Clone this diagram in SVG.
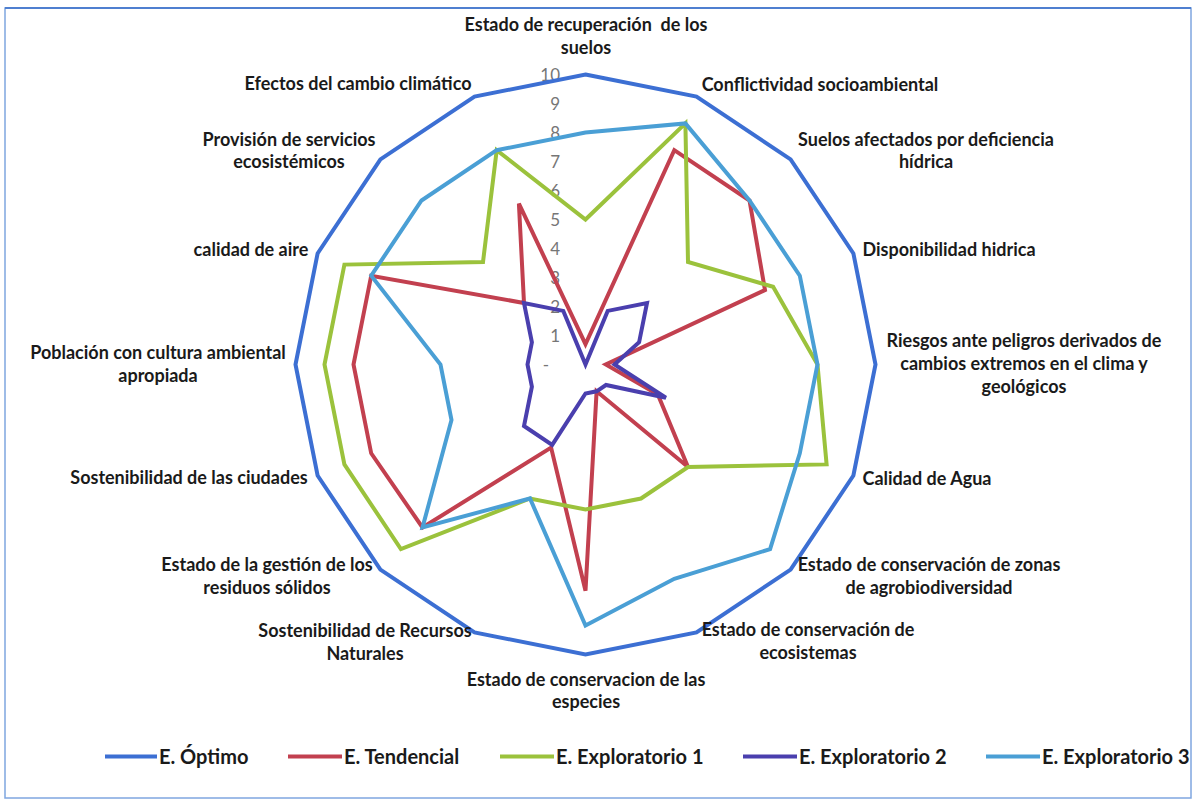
<svg xmlns="http://www.w3.org/2000/svg" width="1195" height="805" viewBox="0 0 1195 805">
<style>
.lbl{font-family:Lato,"Liberation Sans",sans-serif;font-weight:bold;font-size:18px;fill:#1a1a1a;text-anchor:middle}
.tick{font-family:Lato,"Liberation Sans",sans-serif;font-size:17px;fill:#767676;text-anchor:end}
.leg{font-family:Lato,"Liberation Sans",sans-serif;font-weight:bold;font-size:20px;fill:#1a1a1a}
.s{fill:none;stroke-width:4;stroke-linejoin:miter}
.opt{stroke:#3c6fd3}
.ten{stroke:#c2404f}
.ex1{stroke:#9bc23c}
.ex2{stroke:#4a3fae}
.ex3{stroke:#4a9fd5}
</style>
<rect x="0" y="0" width="1195" height="805" fill="#ffffff"/>
<rect x="5" y="8" width="1186" height="790" fill="none" stroke="#7fa6e0" stroke-width="1.5"/>
<line x1="5" y1="8" x2="1191" y2="8" stroke="#4f7fd0" stroke-width="2"/>

<g id="ticks">
<text class="tick" x="560" y="81">10</text>
<text class="tick" x="560" y="110">9</text>
<text class="tick" x="560" y="139">8</text>
<text class="tick" x="560" y="168">7</text>
<text class="tick" x="560" y="197">6</text>
<text class="tick" x="560" y="226">5</text>
<text class="tick" x="560" y="255">4</text>
<text class="tick" x="560" y="284">3</text>
<text class="tick" x="560" y="313">2</text>
<text class="tick" x="560" y="342">1</text>
<text class="tick" x="549" y="371">-</text>
</g>

<g id="connectors">
<polygon id="e-optimo" class="s opt" points="585.5,74.5 696.5,96.6 790.6,159.4 853.4,253.5 875.5,364.5 853.4,475.5 790.6,569.6 696.5,632.4 585.5,654.5 474.5,632.4 380.4,569.6 317.6,475.5 295.5,364.5 317.6,253.5 380.4,159.4 474.5,96.6"/>
<polygon id="e-tendencial" class="s ten" points="585.5,344.2 674.3,150.2 749.5,200.5 765.0,290.1 605.8,364.5 657.8,394.5 688.0,467.0 596.6,391.3 585.5,590.7 551.1,447.6 422.5,527.5 371.2,453.3 353.5,364.5 371.2,275.7 524.0,303.0 518.9,203.7"/>
<polygon id="e-exploratorio-1" class="s ex1" points="585.5,219.5 685.4,123.4 688.0,262.0 773.1,286.8 817.5,364.5 826.6,464.4 688.0,467.0 641.0,498.5 585.5,509.5 530.0,498.5 400.9,549.1 344.4,464.4 324.5,364.5 344.4,264.6 483.0,262.0 496.7,150.2"/>
<polygon id="e-exploratorio-2" class="s ex2" points="585.5,364.5 607.7,310.9 647.0,303.0 639.1,342.3 614.5,364.5 665.9,397.8 606.0,385.0 596.6,391.3 585.5,393.5 552.2,444.9 524.0,426.0 531.9,386.7 527.5,364.5 531.9,342.3 524.0,303.0 563.3,310.9"/>
<polygon id="e-exploratorio-3" class="s ex3" points="585.5,132.5 685.4,123.4 749.5,200.5 799.8,275.7 817.5,364.5 799.8,453.3 770.1,549.1 674.3,578.8 585.5,625.5 530.0,498.5 422.5,527.5 451.5,420.0 440.5,364.5 371.2,275.7 421.5,200.5 496.7,150.2"/>
</g>

<g id="axis-labels">
<g id="ax0"><text class="lbl" x="586" y="31">Estado de recuperación&#160; de los</text><text class="lbl" x="586" y="54">suelos</text></g>
<g id="ax1"><text class="lbl" x="820" y="91">Conflictividad socioambiental</text></g>
<g id="ax2"><text class="lbl" x="926" y="146">Suelos afectados por deficiencia</text><text class="lbl" x="926" y="168">hídrica</text></g>
<g id="ax3"><text class="lbl" x="949" y="256">Disponibilidad hidrica</text></g>
<g id="ax4"><text class="lbl" x="1024" y="347">Riesgos ante peligros derivados de</text><text class="lbl" x="1024" y="370">cambios extremos en el clima y</text><text class="lbl" x="1024" y="393">geológicos</text></g>
<g id="ax5"><text class="lbl" x="927" y="485">Calidad de Agua</text></g>
<g id="ax6"><text class="lbl" x="929" y="571">Estado de conservación de zonas</text><text class="lbl" x="929" y="594">de agrobiodiversidad</text></g>
<g id="ax7"><text class="lbl" x="808" y="636">Estado de conservación de</text><text class="lbl" x="808" y="659">ecosistemas</text></g>
<g id="ax8"><text class="lbl" x="586" y="686">Estado de conservacion de las</text><text class="lbl" x="586" y="708">especies</text></g>
<g id="ax9"><text class="lbl" x="365" y="637">Sostenibilidad de Recursos</text><text class="lbl" x="365" y="660">Naturales</text></g>
<g id="ax10"><text class="lbl" x="267" y="571">Estado de la gestión de los</text><text class="lbl" x="267" y="594">residuos sólidos</text></g>
<g id="ax11"><text class="lbl" x="189" y="484">Sostenibilidad de las ciudades</text></g>
<g id="ax12"><text class="lbl" x="158" y="359">Población con cultura ambiental</text><text class="lbl" x="158" y="382">apropiada</text></g>
<g id="ax13"><text class="lbl" x="251" y="256">calidad de aire</text></g>
<g id="ax14"><text class="lbl" x="289" y="146">Provisión de servicios</text><text class="lbl" x="289" y="168">ecosistémicos</text></g>
<g id="ax15"><text class="lbl" x="358" y="90">Efectos del cambio climático</text></g>
</g>

<g id="legend">
<line class="s opt" x1="105" y1="756.5" x2="157" y2="756.5"/><text class="leg" x="159" y="763.5">E. Óptimo</text>
<line class="s ten" x1="288" y1="756.5" x2="342" y2="756.5"/><text class="leg" x="344" y="763.5">E. Tendencial</text>
<line class="s ex1" x1="500" y1="756.5" x2="554" y2="756.5"/><text class="leg" x="556" y="763.5">E. Exploratorio 1</text>
<line class="s ex2" x1="743" y1="756.5" x2="797" y2="756.5"/><text class="leg" x="799" y="763.5">E. Exploratorio 2</text>
<line class="s ex3" x1="986" y1="756.5" x2="1040" y2="756.5"/><text class="leg" x="1042" y="763.5">E. Exploratorio 3</text>
</g>
</svg>
